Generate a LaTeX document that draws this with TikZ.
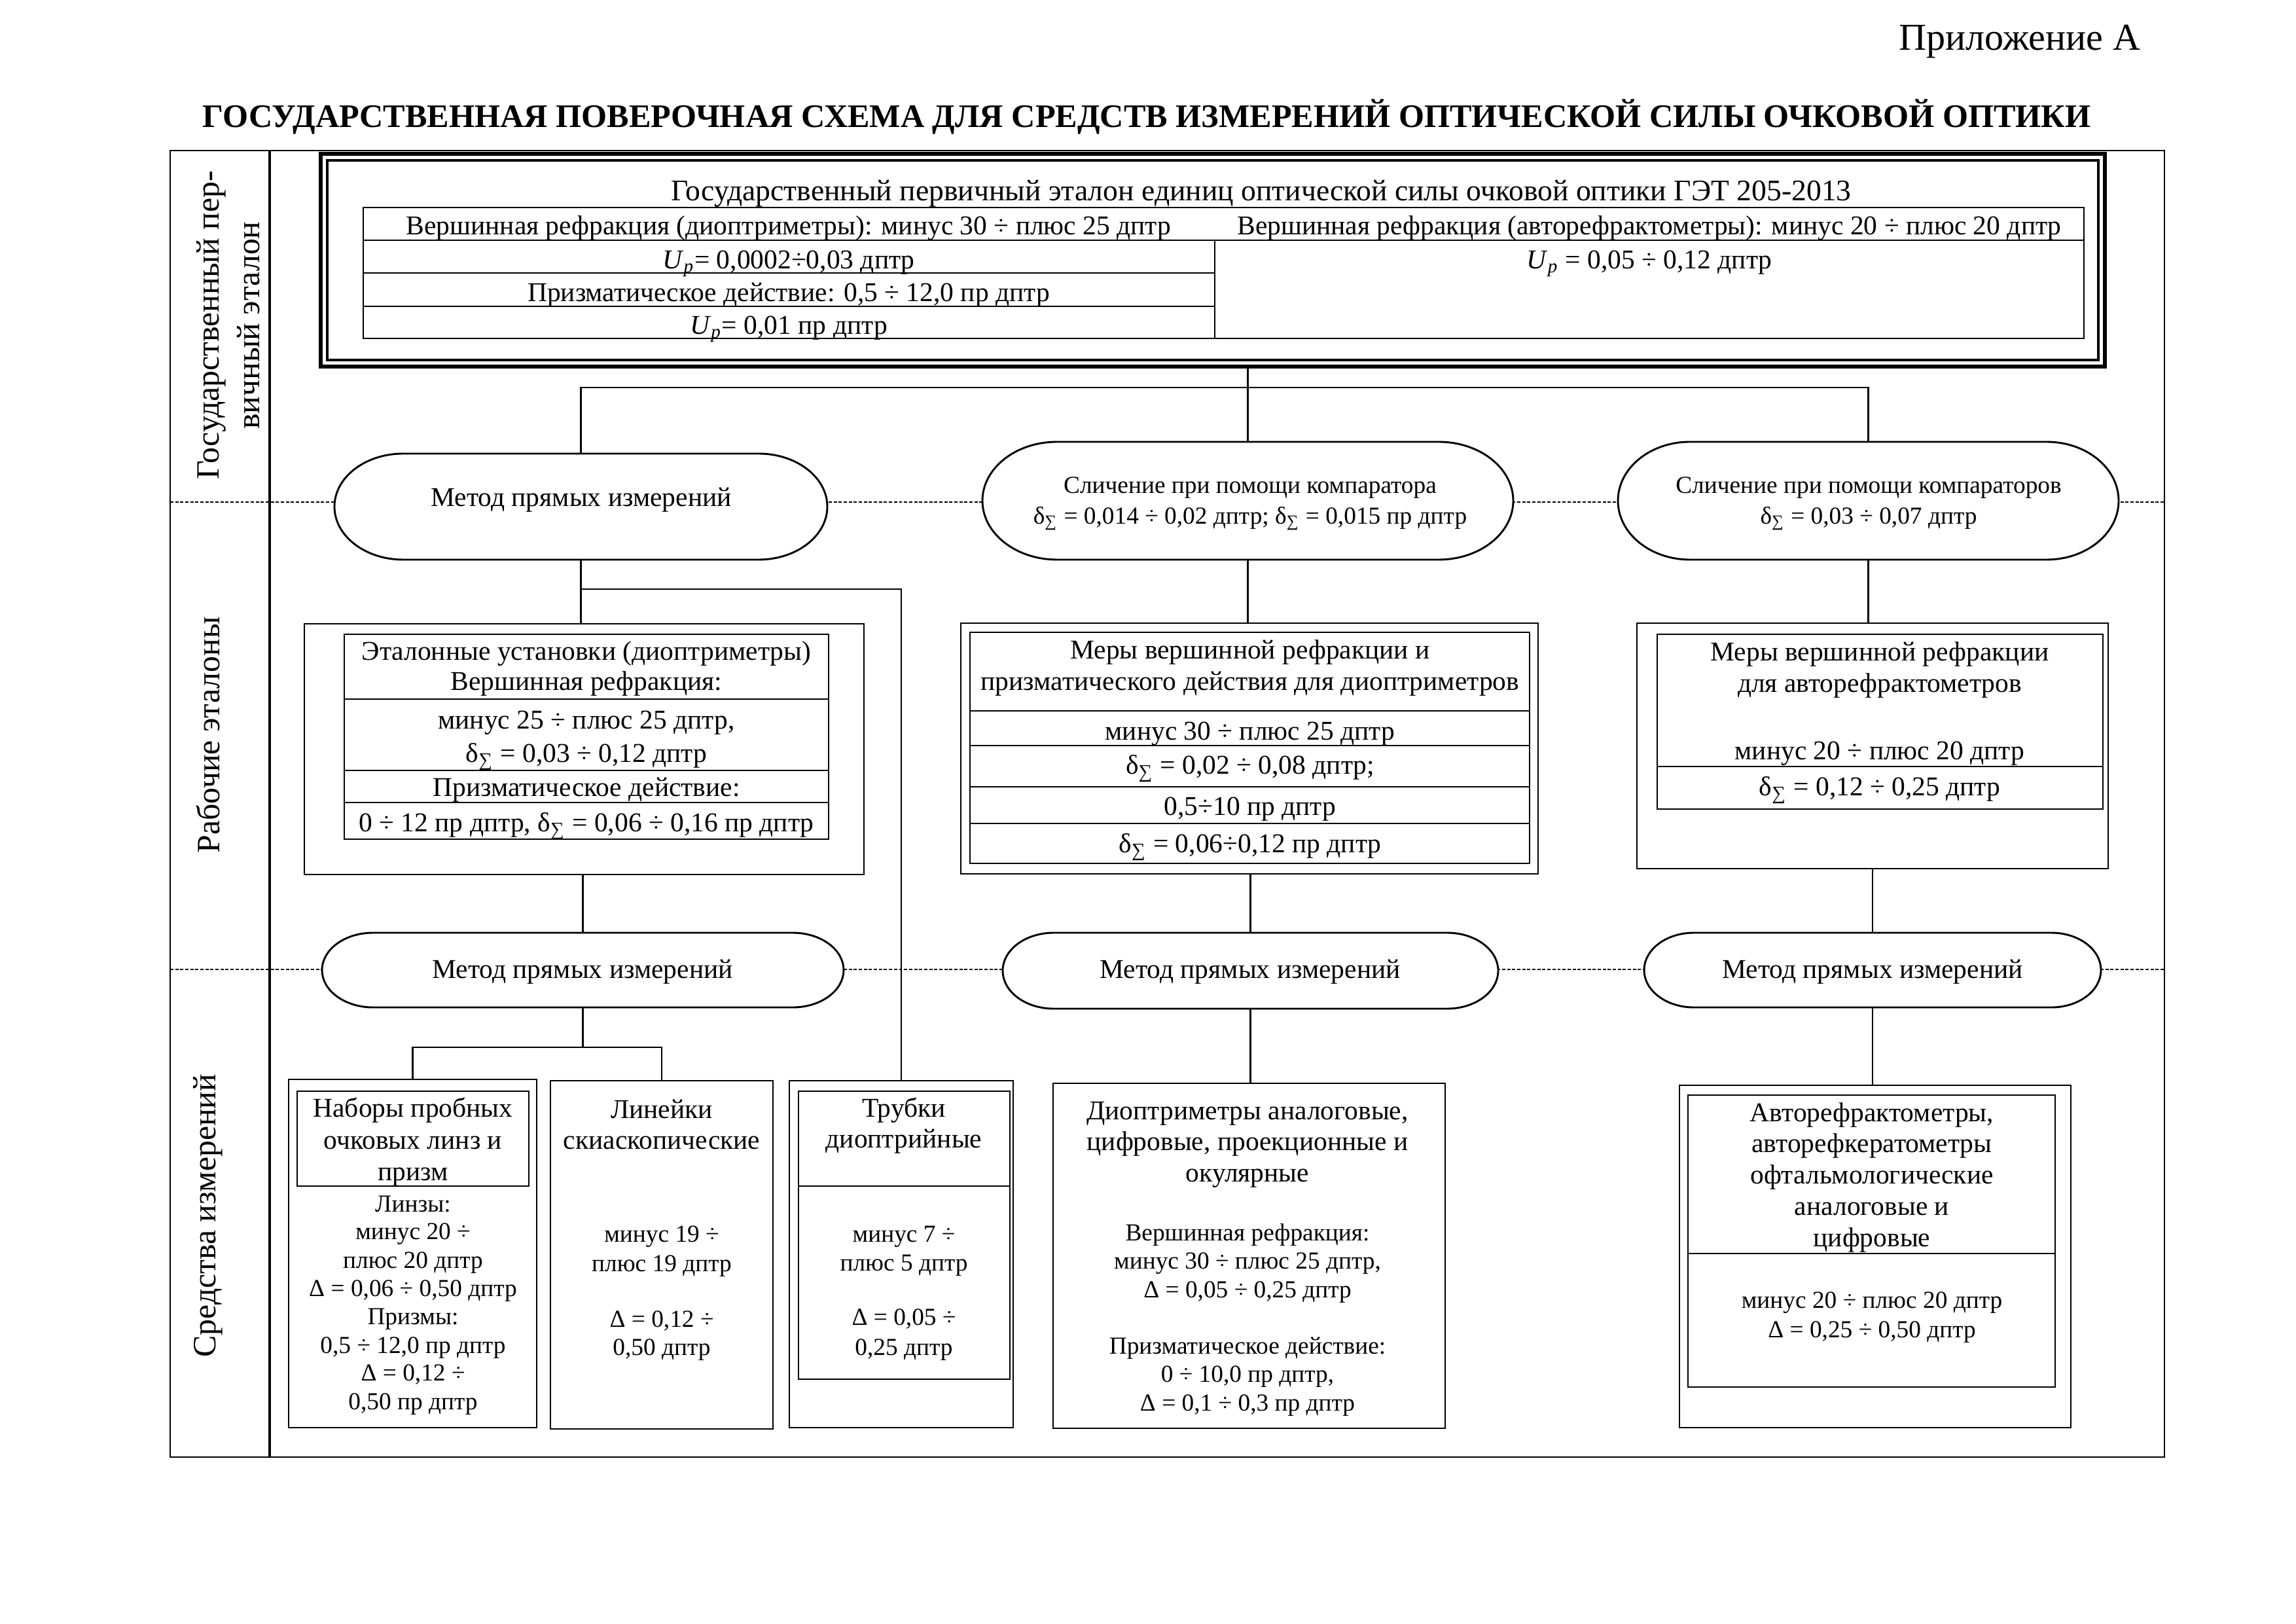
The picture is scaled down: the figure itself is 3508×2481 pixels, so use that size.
\documentclass[tikz,border=0pt]{standalone}
\usepackage{fontspec}
\setmainfont{Liberation Serif}
\newdimen\pxu \pxu=0.0846667mm
\pgfdeclarelayer{bg}
\pgfsetlayers{bg,main}
\newcommand{\fsbase}{\fontsize{10}{11.6}\selectfont}
\newcommand{\fssmall}{\fontsize{9}{10.4}\selectfont}
\newcommand{\fslabel}{\fontsize{12}{14.9}\selectfont}
\newcommand{\fstitle}{\fontsize{12.1}{15}\selectfont}
\newcommand{\fsappx}{\fontsize{14}{16}\selectfont}
\newcommand{\fsget}{\fontsize{11}{13}\selectfont}
\newcommand{\dsig}{δ\textsubscript{∑}}
\newcommand{\upp}{\textit{U}\textsubscript{\textit{p}}}
\newcommand{\tline}[5][]{\node[txt,#1] (#2) at (#3,#4) {#5};}
\newcommand{\ovalpath}[3]{\draw[boxline,fill=white] ([xshift=#2*\pxu]#1.north west) -- ([xshift=-#2*\pxu]#1.north east) arc[start angle=90,end angle=-90,x radius=#2*\pxu,y radius=#3*\pxu] -- ([xshift=#2*\pxu]#1.south west) arc[start angle=270,end angle=90,x radius=#2*\pxu,y radius=#3*\pxu] -- cycle;}
\tikzset{
  boxline/.style={line width=0.7pt},
  conn/.style={line width=0.6pt},
  boxr/.style 2 args={draw, boxline, minimum width=#1*\pxu, minimum height=#2*\pxu, inner sep=0pt, outer sep=0pt, anchor=north west},
  ovl/.style 2 args={minimum width=#1*\pxu, minimum height=#2*\pxu, inner sep=0pt, outer sep=0pt, anchor=north west},
  txt/.style={inner sep=0pt, outer sep=0pt, font=\fsbase, text height=6.6pt, text depth=0pt},
  smalltxt/.style={font=\fssmall, text height=5.9pt},
  gettxt/.style={font=\fsget, text height=7.3pt},
  dashline/.style={line width=0.45pt, dash pattern=on 1.2pt off 0.65pt},
  lab/.style={rotate=90, font=\fslabel, inner sep=0pt, outer sep=0pt}
}
\begin{document}
\begin{tikzpicture}[x=0.0846667mm, y=-0.0846667mm]
\useasboundingbox (0,0) rectangle (3508,2481);

% header texts
\node[anchor=east, inner sep=0pt, font=\fsappx] (appx) at (3271,64) {Приложение А};
\node[inner sep=0pt, font={\fstitle\bfseries}] (title) at (1752,178) {ГОСУДАРСТВЕННАЯ ПОВЕРОЧНАЯ СХЕМА ДЛЯ СРЕДСТВ ИЗМЕРЕНИЙ ОПТИЧЕСКОЙ СИЛЫ ОЧКОВОЙ ОПТИКИ};

% outer frame and column divider
\node[boxr={3047}{1996}, line width=0.6pt] (frame) at (260,230) {};
\draw[line width=1pt] (412,230) -- (412,2226);

% left labels
\node[lab, align=center] (lab1) at (349,497) {Государственный пер-\\вичный эталон};
\node[lab] (lab2) at (318,1123) {Рабочие эталоны};
\node[lab] (lab3) at (318,1857) {Средства измерений};

% GET box
\node[boxr={2726}{325}, line width=1.3pt] (get) at (490,235) {};
\draw[line width=1pt] ([xshift=10*\pxu,yshift=-10*\pxu]get.north west) rectangle ([xshift=-10*\pxu,yshift=10*\pxu]get.south east);
\node[boxr={2629}{200}] (gettab) at (555,317) {};
\draw[boxline] (555,367) -- (3184,367);
\draw[boxline] (555,417) -- (1856,417);
\draw[boxline] (555,468) -- (1856,468);
\draw[boxline] (1856,367) -- (1856,517);
\tline[gettxt]{g1}{1927}{291}{Государственный первичный эталон единиц оптической силы очковой оптики ГЭТ 205-2013}
\tline{g2}{1205}{345}{Вершинная рефракция (диоптриметры): минус 30 ÷ плюс 25 дптр}
\tline{g3}{2520}{345}{Вершинная рефракция (авторефрактометры): минус 20 ÷ плюс 20 дптр}
\tline{g4}{1205}{397}{\upp= 0,0002÷0,03 дптр}
\tline{g5}{1205}{447}{Призматическое действие: 0,5 ÷ 12,0 пр дптр}
\tline{g6}{1205}{497}{\upp= 0,01 пр дптр}
\tline{g7}{2520}{397}{\upp{} = 0,05 ÷ 0,12 дптр}

% ovals (shapes drawn on background layer)
\node[ovl={753}{162}] (E1) at (511,693) {};
\node[ovl={811}{180}] (E2) at (1501,675) {};
\node[ovl={765}{180}] (E3) at (2472,675) {};
\node[ovl={797}{114}] (E4) at (492,1425) {};
\node[ovl={757}{116}] (E5) at (1532,1425) {};
\node[ovl={698}{114}] (E6) at (2512,1425) {};
\begin{pgfonlayer}{bg}
  \draw[dashline] (260,767) -- (3307,767);
  \draw[dashline] (260,1481) -- (3307,1481);
  \ovalpath{E1}{105}{81}
  \ovalpath{E2}{114}{90}
  \ovalpath{E3}{110}{90}
  \ovalpath{E4}{78}{57}
  \ovalpath{E5}{78}{58}
  \ovalpath{E6}{76}{57}
\end{pgfonlayer}
\tline{e1t}{888}{760}{Метод прямых измерений}
\tline[smalltxt]{e2a}{1910}{741}{Сличение при помощи компаратора}
\tline[smalltxt]{e2b}{1910}{788}{\dsig{} = 0,014 ÷ 0,02 дптр; \dsig{} = 0,015 пр дптр}
\tline[smalltxt]{e3a}{2855}{741}{Сличение при помощи компараторов}
\tline[smalltxt]{e3b}{2855}{788}{\dsig{} = 0,03 ÷ 0,07 дптр}
\tline{e4t}{890}{1481}{Метод прямых измерений}
\tline{e5t}{1910}{1481}{Метод прямых измерений}
\tline{e6t}{2861}{1481}{Метод прямых измерений}

% Box A
\node[boxr={855}{383}] (A) at (465,953) {};
\draw[boxline] (526,969) rectangle (1266,1282);
\draw[boxline] (526,1068) -- (1266,1068);
\draw[boxline] (526,1177) -- (1266,1177);
\draw[boxline] (526,1226) -- (1266,1226);
\tline{a1}{896}{995}{Эталонные установки (диоптриметры)}
\tline{a2}{896}{1041}{Вершинная рефракция:}
\tline{a3}{896}{1100}{минус 25 ÷ плюс 25 дптр,}
\tline{a4}{896}{1151}{\dsig{} = 0,03 ÷ 0,12 дптр}
\tline{a5}{896}{1203}{Призматическое действие:}
\tline{a6}{896}{1257}{0 ÷ 12 пр дптр, \dsig{} = 0,06 ÷ 0,16 пр дптр}

% Box B
\node[boxr={882}{383}] (B) at (1468,952) {};
\draw[boxline] (1482,966) rectangle (2337,1319);
\draw[boxline] (1482,1086) -- (2337,1086);
\draw[boxline] (1482,1139) -- (2337,1139);
\draw[boxline] (1482,1202) -- (2337,1202);
\draw[boxline] (1482,1258) -- (2337,1258);
\tline{b1}{1910}{993}{Меры вершинной рефракции и}
\tline{b2}{1910}{1041}{призматического действия для диоптриметров}
\tline{b3}{1910}{1117}{минус 30 ÷ плюс 25 дптр}
\tline{b4}{1910}{1169}{\dsig{} = 0,02 ÷ 0,08 дптр;}
\tline{b5}{1910}{1232}{0,5÷10 пр дптр}
\tline{b6}{1910}{1289}{\dsig{} = 0,06÷0,12 пр дптр}

% Box C
\node[boxr={720}{375}] (C) at (2501,952) {};
\draw[boxline] (2532,969) rectangle (3213,1236);
\draw[boxline] (2532,1171) -- (3213,1171);
\tline{c1}{2872}{996}{Меры вершинной рефракции}
\tline{c2}{2872}{1044}{для авторефрактометров}
\tline{c3}{2872}{1147}{минус 20 ÷ плюс 20 дптр}
\tline{c4}{2872}{1202}{\dsig{} = 0,12 ÷ 0,25 дптр}

% Box D
\node[boxr={379}{532}] (D) at (441,1649) {};
\draw[boxline] (454,1667) rectangle (808,1812);
\tline{d1}{631}{1693}{Наборы пробных}
\tline{d2}{631}{1742}{очковых линз и}
\tline{d3}{631}{1790}{призм}
\tline[smalltxt]{d4}{631}{1839}{Линзы:}
\tline[smalltxt]{d5}{631}{1881}{минус 20 ÷}
\tline[smalltxt]{d6}{631}{1925}{плюс 20 дптр}
\tline[smalltxt]{d7}{631}{1968}{Δ = 0,06 ÷ 0,50 дптр}
\tline[smalltxt]{d8}{631}{2011}{Призмы:}
\tline[smalltxt]{d9}{631}{2055}{0,5 ÷ 12,0 пр дптр}
\tline[smalltxt]{d10}{631}{2097}{Δ = 0,12 ÷}
\tline[smalltxt]{d11}{631}{2141}{0,50 пр дптр}

% Box E
\node[boxr={340}{532}] (Ebox) at (841,1651) {};
\tline{f1}{1011}{1695}{Линейки}
\tline{f2}{1011}{1742}{скиаскопические}
\tline[smalltxt]{f3}{1011}{1885}{минус 19 ÷}
\tline[smalltxt]{f4}{1011}{1930}{плюс 19 дптр}
\tline[smalltxt]{f5}{1011}{2015}{Δ = 0,12 ÷}
\tline[smalltxt]{f6}{1011}{2058}{0,50 дптр}

% Box F
\node[boxr={342}{530}] (F) at (1206,1651) {};
\draw[boxline] (1220,1667) rectangle (1543,2107);
\draw[boxline] (1220,1812) -- (1543,1812);
\tline{h1}{1381}{1693}{Трубки}
\tline{h2}{1381}{1740}{диоптрийные}
\tline[smalltxt]{h3}{1381}{1885}{минус 7 ÷}
\tline[smalltxt]{h4}{1381}{1929}{плюс 5 дптр}
\tline[smalltxt]{h5}{1381}{2012}{Δ = 0,05 ÷}
\tline[smalltxt]{h6}{1381}{2058}{0,25 дптр}

% Box G
\node[boxr={599}{527}] (G) at (1609,1655) {};
\tline{k1}{1906}{1697}{Диоптриметры аналоговые,}
\tline{k2}{1906}{1744}{цифровые, проекционные и}
\tline{k3}{1906}{1792}{окулярные}
\tline[smalltxt]{k4}{1906}{1883}{Вершинная рефракция:}
\tline[smalltxt]{k5}{1906}{1926}{минус 30 ÷ плюс 25 дптр,}
\tline[smalltxt]{k6}{1906}{1970}{Δ = 0,05 ÷ 0,25 дптр}
\tline[smalltxt]{k7}{1906}{2056}{Призматическое действие:}
\tline[smalltxt]{k8}{1906}{2099}{0 ÷ 10,0 пр дптр,}
\tline[smalltxt]{k9}{1906}{2143}{Δ = 0,1 ÷ 0,3 пр дптр}

% Box H
\node[boxr={598}{523}] (H) at (2566,1658) {};
\draw[boxline] (2579,1673) rectangle (3140,2119);
\draw[boxline] (2579,1915) -- (3140,1915);
\tline{m1}{2860}{1700}{Авторефрактометры,}
\tline{m2}{2860}{1747}{авторефкератометры}
\tline{m3}{2860}{1795}{офтальмологические}
\tline{m4}{2860}{1843}{аналоговые и}
\tline{m5}{2860}{1891}{цифровые}
\tline[smalltxt]{m6}{2860}{1986}{минус 20 ÷ плюс 20 дптр}
\tline[smalltxt]{m7}{2860}{2031}{Δ = 0,25 ÷ 0,50 дптр}

% connectors
\coordinate (bus) at (0,592);
\coordinate (j1) at (0,900);
\coordinate (j2) at (0,1600);
\draw[conn] (E1.north) -- (E1.north |- bus) -- (E3.north |- bus) -- (E3.north);
\draw[conn] (E2.north |- get.south) -- (E2.north);
\draw[conn] (E1.south) -- (E1.south |- A.north);
\draw[conn] (E1.south |- j1) -| (F.north);
\draw[conn] (E2.south) -- (E2.south |- B.north);
\draw[conn] (E3.south) -- (E3.south |- C.north);
\draw[conn] (E4.north |- A.south) -- (E4.north);
\draw[conn] (E5.north |- B.south) -- (E5.north);
\draw[conn] (E6.north |- C.south) -- (E6.north);
\draw[conn] (E4.south) -- (E4.south |- j2);
\draw[conn] (D.north) |- (Ebox.north |- j2) -- (Ebox.north);
\draw[conn] (E5.south) -- (E5.south |- G.north);
\draw[conn] (E6.south) -- (E6.south |- H.north);
\end{tikzpicture}
\end{document}
